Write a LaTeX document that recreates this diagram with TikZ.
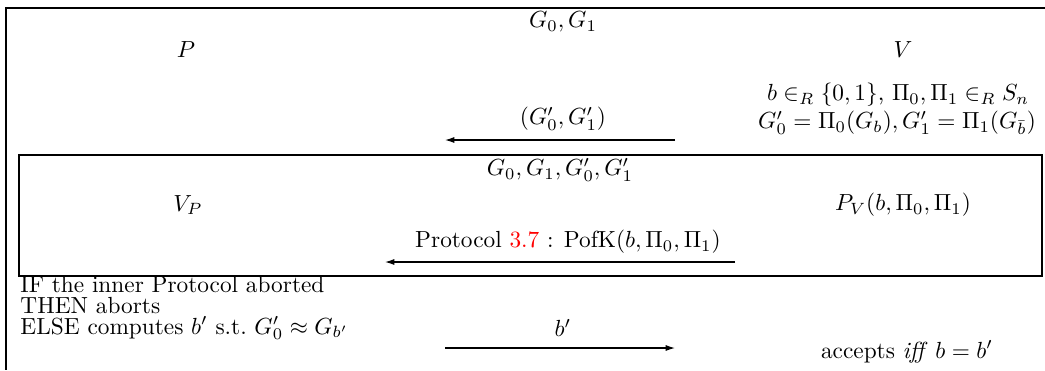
\documentclass[tikz,border=0pt]{standalone}
\usepackage{xcolor}
\usetikzlibrary{arrows.meta}
\tikzset{
  msg/.style={-{Latex[length=4pt,width=2.6pt]}, line width=0.5pt},
  frame/.style={line width=0.6pt},
  lbl/.style={inner sep=0pt},
  txt/.style={inner sep=0pt, anchor=base west}
}
\begin{document}
\begin{tikzpicture}[x=0.429pt, y=-0.429pt]
\useasboundingbox (0,0) rectangle (1045,370);
% outer frame
\coordinate (tr) at (1045,8);
\coordinate (tl) at (6,8);
\coordinate (bl) at (6,370);
\draw[frame] (tr) -- (tl) -- (bl);
% top part
\node[lbl] (G) at (563,22) {$G_0, G_1$};
\node[lbl] (P) at (186,50) {$P$};
\node[lbl] (V) at (903,50) {$V$};
\node[lbl] (V1) at (898,95) {$b \in_R \{0,1\}$, $\Pi_0, \Pi_1 \in_R S_n$};
\node[lbl] (V2) at (897,123) {$G'_0 = \Pi_0(G_b), G'_1 = \Pi_1(G_{\bar b})$};
\coordinate (a1s) at (675,140);
\coordinate (a1e) at (445,140);
\draw[msg] (a1s) -- (a1e);
\node[lbl] (m1) at (563,119) {$(G'_0, G'_1)$};
% inner box
\node[draw, frame, minimum width=1023*0.429pt, minimum height=121*0.429pt, inner sep=0pt] (inner) at (530.5,215.5) {};
\node[lbl] (G2) at (560,170) {$G_0, G_1, G'_0, G'_1$};
\node[lbl] (VP) at (188,205) {$V_P$};
\node[lbl] (PV) at (903,205) {$P_V(b, \Pi_0, \Pi_1)$};
\coordinate (a2s) at (735,262);
\coordinate (a2e) at (385,262);
\draw[msg] (a2s) -- (a2e);
\node[lbl] (m2) at (568,242) {Protocol \textcolor{red}{3.7} : $\mathrm{PofK}(b, \Pi_0, \Pi_1)$};
% bottom part
\node[txt] (t1) at (20,292) {IF the inner Protocol aborted};
\node[txt] (t2) at (20,313) {THEN aborts};
\node[txt] (t3) at (20,334) {ELSE computes $b'$ s.t.\ $G'_0 \approx G_{b'}$};
\coordinate (a3s) at (445,348);
\coordinate (a3e) at (675,348);
\draw[msg] (a3s) -- (a3e);
\node[lbl] (m3) at (563,328) {$b'$};
\node[lbl] (acc) at (907,352) {accepts \emph{iff} $b = b'$};
\end{tikzpicture}
\end{document}
